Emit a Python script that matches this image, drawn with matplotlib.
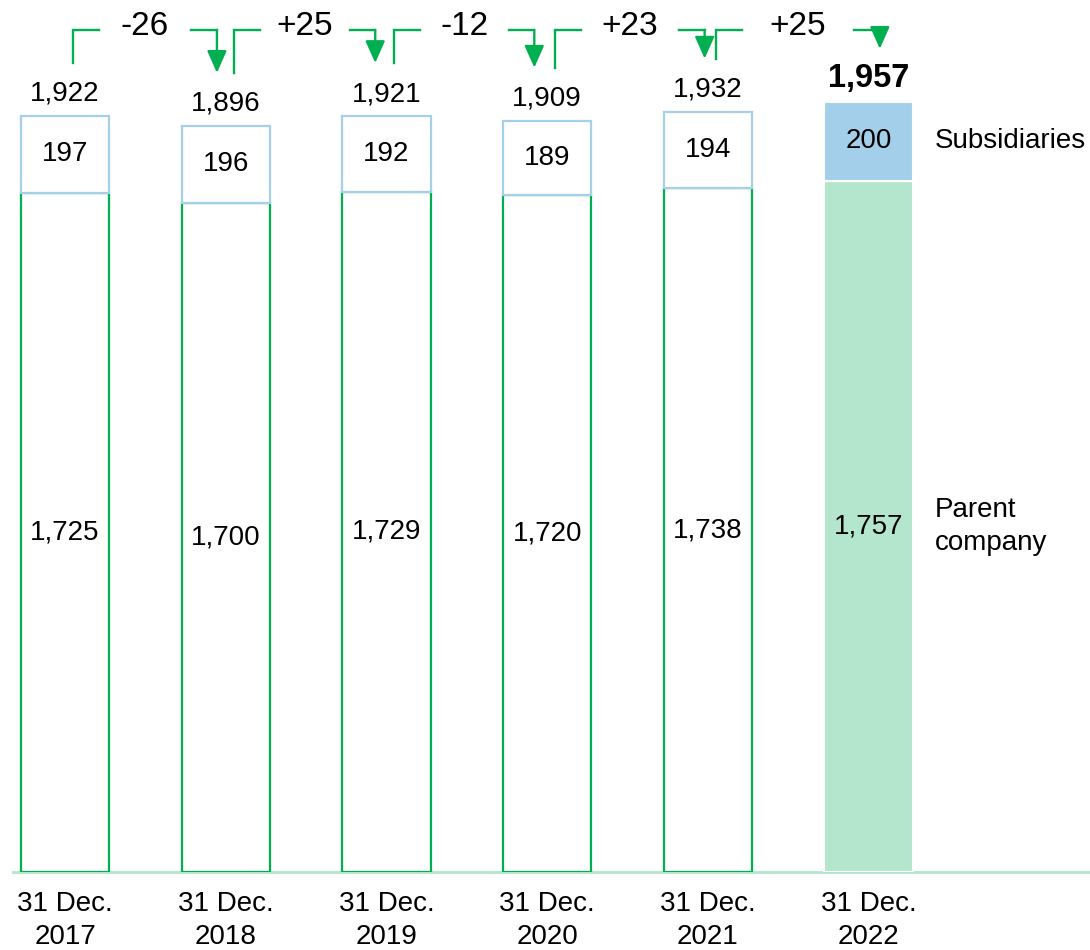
import numpy as np
import matplotlib.pyplot as plt

plt.rcParams['font.family'] = ['Liberation Sans', 'DejaVu Sans']

# data
dates = ['31 Dec.\n2017', '31 Dec.\n2018', '31 Dec.\n2019',
         '31 Dec.\n2020', '31 Dec.\n2021', '31 Dec.\n2022']
parent = [1725, 1700, 1729, 1720, 1738, 1757]
subs = [197, 196, 192, 189, 194, 200]
totals = [1922, 1896, 1921, 1909, 1932, 1957]
changes = ['-26', '+25', '-12', '+23', '+25']

green = '#00b050'
light_green = '#b3e6cc'
blue_edge = '#a6d0ea'
blue_fill = '#a3cfeb'

x = np.arange(len(dates))
w = 0.55

fig = plt.figure(figsize=(10.9, 9.5), dpi=100)
ax = fig.add_axes([13 / 1090, 78 / 950, 1 - 13 / 1090, 872 / 950])

# outlined bars for past years, filled for latest
for i in range(len(dates)):
    if i < len(dates) - 1:
        ax.bar(x[i], parent[i], w, facecolor='white', edgecolor=green, lw=1.6, zorder=3)
        ax.bar(x[i], subs[i], w, bottom=parent[i], facecolor='white',
               edgecolor=blue_edge, lw=1.6, zorder=3)
    else:
        ax.bar(x[i], parent[i], w, facecolor=light_green, edgecolor='white', lw=1.5, zorder=3)
        ax.bar(x[i], subs[i], w, bottom=parent[i], facecolor=blue_fill,
               edgecolor='white', lw=1.5, zorder=3)

    ax.text(x[i], parent[i] / 2, f'{parent[i]:,}', ha='center', va='center', fontsize=20, zorder=4)
    ax.text(x[i], parent[i] + subs[i] / 2, f'{subs[i]:,}', ha='center', va='center', fontsize=20, zorder=4)
    if i < len(dates) - 1:
        ax.text(x[i], totals[i] + 56, f'{totals[i]:,}', ha='center', va='center', fontsize=20)
    else:
        ax.text(x[i], totals[i] + 60, f'{totals[i]:,}', ha='center', va='center',
                fontsize=23.5, fontweight='bold')

# change connectors between bars
level = 2140
seg = 0.16
arrow_shift = [-0.055, -0.07, -0.08, -0.02, 0.07]
for i, lab in enumerate(changes):
    x0 = x[i] + 0.05
    x1 = x[i + 1] + arrow_shift[i]
    ax.plot([x0, x0, x0 + seg], [totals[i] + 135, level, level], color=green, lw=1.7,
            solid_joinstyle='miter', clip_on=False)
    ax.plot([x1 - seg, x1], [level, level], color=green, lw=1.7, clip_on=False)
    ax.annotate('', xy=(x1, totals[i + 1] + 135), xytext=(x1, level),
                arrowprops=dict(arrowstyle='-|>,head_length=1.35,head_width=0.6',
                                color=green, lw=1.7, shrinkA=0, shrinkB=0,
                                mutation_scale=10), annotation_clip=False)
    ax.text((x0 + x1) / 2, level + 8, lab, ha='center', va='center', fontsize=24)

# series labels on the right
ax.text(5.414, parent[-1] + subs[-1] / 2, 'Subsidiaries', ha='left', va='center', fontsize=20)
ax.text(5.414, 877, 'Parent\ncompany', ha='left', va='center', fontsize=20, linespacing=1.35)

ax.set_xlim(-0.324, 6.378)
ax.set_ylim(0, 2216)
ax.set_xticks(x)
ax.set_xticklabels(dates, fontsize=20, linespacing=1.35)
ax.tick_params(axis='x', length=0, pad=14)
ax.set_yticks([])
for s in ['top', 'right', 'left']:
    ax.spines[s].set_visible(False)
ax.spines['bottom'].set_color(light_green)
ax.spines['bottom'].set_linewidth(2)

fig.savefig('out.png', dpi=100)
